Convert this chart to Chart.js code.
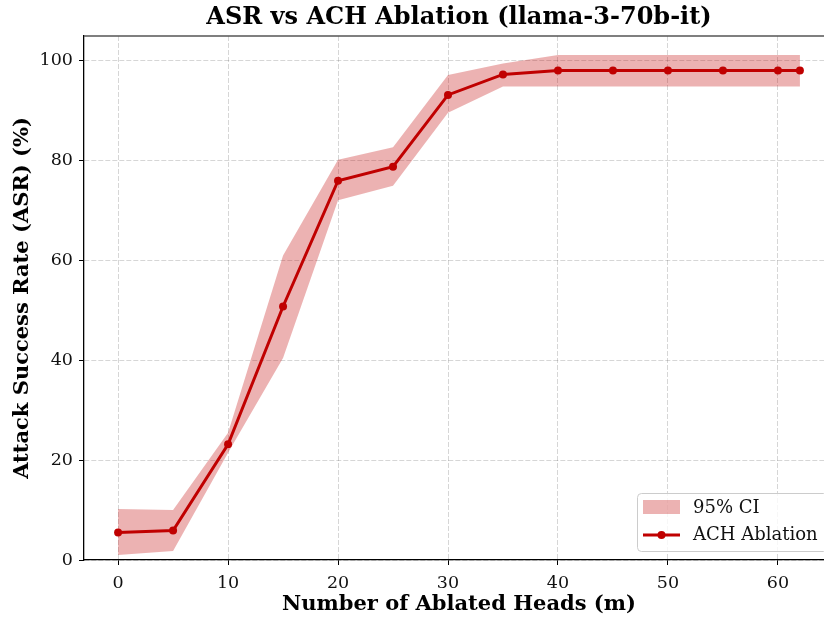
<!DOCTYPE html>
<html>
<head>
<meta charset="utf-8">
<script src="https://cdn.jsdelivr.net/npm/chart.js@4.4.0/dist/chart.umd.min.js"></script>
<style>
    html, body { margin: 0; padding: 0; background: #fff; overflow: hidden; }
    #wrap { width: 840px; height: 617px; }
</style>
</head>
<body>
<div id="wrap"><canvas id="asrChart" width="840" height="617"></canvas></div>
<script>
    // Data
    const heads    = [0, 5, 10, 15, 20, 25, 30, 35, 40, 45, 50, 55, 60, 62];
    const asrMean  = [5.5, 5.9, 23.2, 50.8, 76.0, 78.8, 93.2, 97.3, 98.1, 98.1, 98.1, 98.1, 98.1, 98.1];
    const ciUpper  = [10.2, 10.0, 25.5, 61.0, 80.2, 82.7, 97.2, 99.5, 101.2, 101.2, 101.2, 101.2, 101.2, 101.2];
    const ciLower  = [1.0, 1.8, 21.5, 40.5, 72.1, 75.0, 89.6, 94.9, 94.9, 94.9, 94.9, 94.9, 94.9, 94.9];
    const xTicks   = [0, 10, 20, 30, 40, 50, 60];
    const yTicks   = [0, 20, 40, 60, 80, 100];

    const titleText  = 'ASR vs ACH Ablation (llama-3-70b-it)';
    const xLabel     = 'Number of Ablated Heads (m)';
    const yLabel     = 'Attack Success Rate (ASR) (%)';
    const bandLabel  = '95% CI';
    const lineLabel  = 'ACH Ablation';

    const SERIF = "'DejaVu Serif', serif";
    const lineColor = '#c00000';
    const bandColor = 'rgba(192, 0, 0, 0.3)';

    const toPoints = (vals) => heads.map((h, i) => ({ x: h, y: vals[i] }));

    // Title, top spine and in-axes legend, drawn like matplotlib does
    const decorPlugin = {
        id: 'decor',
        afterDraw(chart) {
            const { ctx, chartArea } = chart;
            const { left, right, top, bottom } = chartArea;
            ctx.save();

            // top spine
            ctx.strokeStyle = '#555';
            ctx.lineWidth = 1.5;
            ctx.beginPath();
            ctx.moveTo(left, top);
            ctx.lineTo(right, top);
            ctx.stroke();

            // title
            ctx.fillStyle = '#000';
            ctx.font = 'bold 24px ' + SERIF;
            ctx.textAlign = 'center';
            ctx.textBaseline = 'middle';
            ctx.fillText(titleText, (left + right) / 2, 18);

            // legend
            const bx = right - 197, by = bottom - 67, bw = 190, bh = 58;
            ctx.fillStyle = 'rgba(255,255,255,0.8)';
            ctx.strokeStyle = '#cccccc';
            ctx.lineWidth = 1;
            ctx.beginPath();
            ctx.roundRect(bx + 0.5, by + 0.5, bw, bh, 4);
            ctx.fill();
            ctx.stroke();

            ctx.fillStyle = bandColor;
            ctx.fillRect(bx + 6, by + 7, 37, 14);

            ctx.strokeStyle = lineColor;
            ctx.lineWidth = 3;
            ctx.beginPath();
            ctx.moveTo(bx + 6, by + 42);
            ctx.lineTo(bx + 43, by + 42);
            ctx.stroke();
            ctx.fillStyle = lineColor;
            ctx.beginPath();
            ctx.arc(bx + 24.5, by + 42, 4, 0, Math.PI * 2);
            ctx.fill();

            ctx.fillStyle = '#111';
            ctx.font = '18px ' + SERIF;
            ctx.textAlign = 'left';
            ctx.textBaseline = 'middle';
            ctx.fillText(bandLabel, bx + 56, by + 15);
            ctx.fillText(lineLabel, bx + 56, by + 42);

            ctx.restore();
        }
    };

    new Chart(document.getElementById('asrChart'), {
        type: 'line',
        data: {
            datasets: [
                {
                    label: bandLabel,
                    data: toPoints(ciUpper),
                    borderWidth: 0,
                    pointRadius: 0,
                    backgroundColor: bandColor,
                    fill: '+1'
                },
                {
                    label: 'lower',
                    data: toPoints(ciLower),
                    borderWidth: 0,
                    pointRadius: 0,
                    fill: false
                },
                {
                    label: lineLabel,
                    data: toPoints(asrMean),
                    borderColor: lineColor,
                    borderWidth: 3,
                    pointRadius: 4,
                    pointBackgroundColor: lineColor,
                    pointBorderWidth: 0,
                    fill: false
                }
            ]
        },
        options: {
            responsive: false,
            animation: false,
            layout: { padding: { top: 36, right: 6, left: 0, bottom: 0 } },
            plugins: {
                legend: { display: false },
                title: { display: false },
                tooltip: { enabled: false }
            },
            scales: {
                x: {
                    type: 'linear',
                    min: -3.1,
                    max: 65.1,
                    afterBuildTicks: (scale) => { scale.ticks = xTicks.map(v => ({ value: v })); },
                    afterFit: (scale) => { scale.height = 57; },
                    ticks: { color: '#111', font: { family: SERIF, size: 17.5 }, padding: 8, maxRotation: 0 },
                    grid: { color: 'rgba(0,0,0,0.16)', tickColor: '#000', tickLength: 5, tickBorderDash: [], lineWidth: 1 },
                    border: { color: '#000', width: 1.3, dash: [5, 2] },
                    title: { display: true, text: xLabel, color: '#000', font: { family: SERIF, size: 21, weight: 'bold' }, padding: { top: 0, bottom: 0 } }
                },
                y: {
                    min: 0,
                    max: 105,
                    afterBuildTicks: (scale) => { scale.ticks = yTicks.map(v => ({ value: v })); },
                    afterFit: (scale) => { scale.width = 84; },
                    ticks: { color: '#111', font: { family: SERIF, size: 17.5 }, padding: 6 },
                    grid: { color: 'rgba(0,0,0,0.16)', tickColor: '#000', tickLength: 5, tickBorderDash: [], lineWidth: 1 },
                    border: { color: '#000', width: 1.3, dash: [5, 2] },
                    title: { display: true, text: yLabel, color: '#000', font: { family: SERIF, size: 21, weight: 'bold' }, padding: { top: 10, bottom: 0 } }
                }
            }
        },
        plugins: [decorPlugin]
    });
</script>
</body>
</html>
